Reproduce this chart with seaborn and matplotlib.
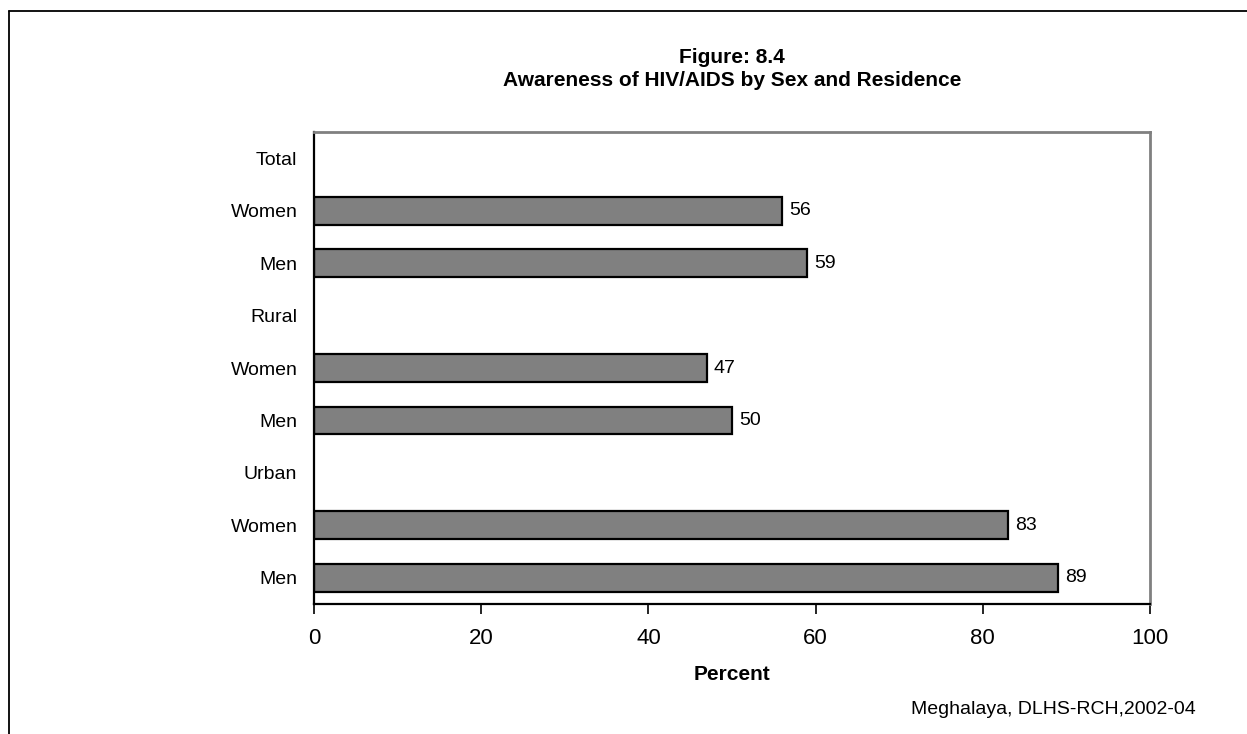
import numpy as np
import pandas as pd
import matplotlib
matplotlib.use("Agg")
import matplotlib.pyplot as plt
from matplotlib.lines import Line2D
import seaborn as sns

# Awareness of HIV/AIDS (%) by residence and sex
groups = ["Total", "Rural", "Urban"]
women = [56, 47, 83]
men = [59, 50, 89]
sub_labels = ["Women", "Men"]

title = "Figure: 8.4\nAwareness of HIV/AIDS by Sex and Residence"
x_label = "Percent"
source = "Meghalaya, DLHS-RCH,2002-04"
x_ticks = [0, 20, 40, 60, 80, 100]

# One row per header / sub-group; headers have no bar
keys, tick_labels, values = [], [], []
for g, w, m in zip(groups, women, men):
    keys += [g, f"{g}|Women", f"{g}|Men"]
    tick_labels += [g] + sub_labels
    values += [np.nan, w, m]
df = pd.DataFrame({"key": keys, "percent": values})

sns.set_theme(style="white")
plt.rcParams["font.family"] = ["Liberation Sans", "DejaVu Sans"]
plt.rcParams.update({
    "text.color": "black",
    "axes.labelcolor": "black",
    "xtick.color": "black",
    "ytick.color": "black",
})

fig = plt.figure(figsize=(12.47, 7.34), dpi=100)
ax = fig.add_axes([314 / 1247, 1 - 604 / 734, (1150 - 314) / 1247, (604 - 132) / 734])

sns.barplot(
    data=df.dropna(), x="percent", y="key", order=keys, orient="h",
    color="#808080", saturation=1, edgecolor="black", linewidth=1.6,
    width=0.53, ax=ax,
)
for c in ax.containers:
    ax.bar_label(c, fmt="%d", padding=5, fontsize=14, color="black")

ax.set_xlim(0, 100)
ax.set_ylim(len(keys) - 0.5, -0.5)
ax.set_xticks(x_ticks)
ax.set_yticks(range(len(keys)))
ax.set_yticklabels(tick_labels)
ax.set_ylabel("")
ax.set_xlabel(x_label, fontsize=15, fontweight="bold", labelpad=12, color="black")
ax.tick_params(axis="x", direction="out", length=7, width=1.2, color="black",
               labelcolor="black", labelsize=16, pad=10, bottom=True)
ax.tick_params(axis="y", length=0, labelsize=14, pad=12, labelcolor="black")

for side in ["top", "right"]:
    ax.spines[side].set_color("#808080")
    ax.spines[side].set_linewidth(2)
for side in ["left", "bottom"]:
    ax.spines[side].set_color("black")
    ax.spines[side].set_linewidth(1.6)
ax.spines["bottom"].set_zorder(5)

fig.text(732 / 1247, 1 - 69 / 734, title, ha="center", va="center",
         fontsize=15, fontweight="bold", linespacing=1.25, color="black")
fig.text(1196 / 1247, 1 - 710 / 734, source, ha="right", va="center",
         fontsize=14, color="black")

# frame lines along the top and left edges of the figure
fig.add_artist(Line2D([9 / 1247, 1.0], [1 - 11 / 734, 1 - 11 / 734],
                      transform=fig.transFigure, color="black", lw=1.3))
fig.add_artist(Line2D([9 / 1247, 9 / 1247], [1 - 11 / 734, 0.0],
                      transform=fig.transFigure, color="black", lw=1.3))

fig.savefig("out.png", dpi=100, facecolor="white")
